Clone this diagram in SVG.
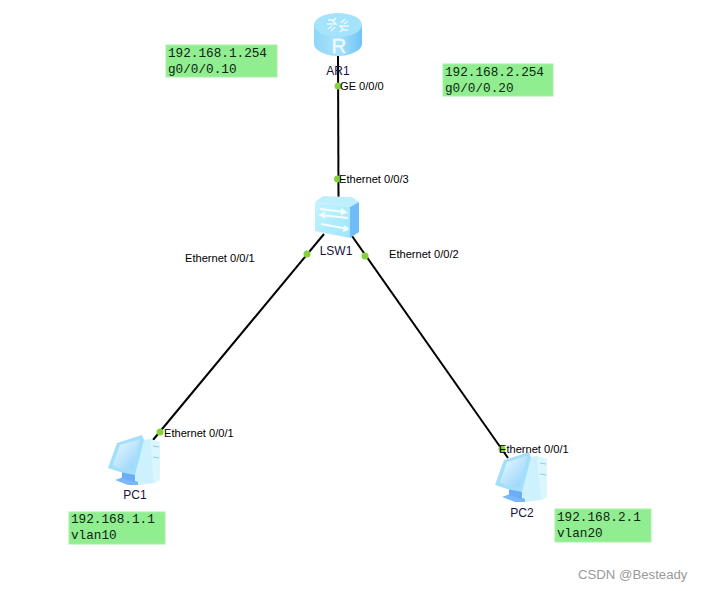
<svg xmlns="http://www.w3.org/2000/svg" width="702" height="591" viewBox="0 0 702 591">
<defs>
<style>
.lbl{font-family:"Liberation Sans",Arial,sans-serif;font-size:11.1px;fill:#000}
.name{font-family:"Liberation Sans",Arial,sans-serif;font-size:12px;fill:#1a1040}
.note{fill:#90ee90;stroke:#a6f0a6;stroke-width:1}
.nt{font-family:"Liberation Mono",monospace;font-size:12.7px;fill:#0c2410}
.link{stroke:#000;stroke-width:2;fill:none}
.dot{fill:#84d13c}
.ic{stroke:#eafaff;stroke-width:1.500;fill:none}
</style>
<linearGradient id="rb" x1="0" x2="1" y1="0" y2="0"><stop offset="0" stop-color="#8fd6f7"/><stop offset=".5" stop-color="#a9e3fb"/><stop offset="1" stop-color="#6fc3f5"/></linearGradient>
<linearGradient id="sf" x1="0" x2="1" y1="0" y2="1"><stop offset="0" stop-color="#c4f3ff"/><stop offset="1" stop-color="#9fe5fb"/></linearGradient>
<linearGradient id="ms" x1="0" x2="1" y1="0" y2="1"><stop offset="0" stop-color="#eefbff"/><stop offset="1" stop-color="#8fd0fa"/></linearGradient>
<g id="pc">
<polygon points="35,4 42,3 52,6 52,44 46,47 30,49 26,40" fill="#cdf1fd"/>
<polygon points="42,3 52,6 52,44 46,47" fill="#dcf6fe"/>
<line x1="45" y1="10" x2="51" y2="11" stroke="#8ccdf0" stroke-width="1"/>
<line x1="45" y1="21" x2="51" y2="22" stroke="#8ccdf0" stroke-width="1"/>
<polygon points="7,44 18,40 30,46 30,49 20,49" fill="#7ab8fb"/>
<polygon points="14,33 27,36 27,46 14,42" fill="#6aaef8"/>
<polygon points="0,32 9,7 34,-1 36,4 27,39 12,36" fill="#a3dffb"/>
<polygon points="5,29 12,9 32,3 25,33 12,33" fill="url(#ms)"/>
</g>
</defs>
<rect width="702" height="591" fill="#fff"/>
<g id="connectors">
<line class="link" x1="338" y1="55" x2="338.500" y2="199"/>
<line class="link" x1="324" y1="234" x2="153" y2="440"/>
<line class="link" x1="352" y1="236" x2="508" y2="458"/>
</g>
<g id="AR1">
<path d="M314 25V44C314 50 325 56 338 56S362 50 362 44V25Z" fill="url(#rb)"/>
<ellipse cx="338" cy="25" rx="24" ry="12" fill="#a5e2fb"/>
<path class="ic" d="M327 24h9l-3-3 3-3M349 26h-9l3 3-3 3M328 20h6M348 30h-6M331 31l4-4M345 19l-4 4M328 29l4-3M348 21l-4 3"/>
<text x="339" y="53" text-anchor="middle" font-family="Liberation Sans,Arial,sans-serif" font-size="20.500" fill="#eefaff" stroke="#eefaff" stroke-width=".4">R</text>
<text class="name" x="338" y="75" text-anchor="middle">AR1</text>
</g>
<g id="LSW1">
<polygon points="315,202 323,196 352,197 359,202 350,207" fill="#bdeffd"/>
<polygon points="350,207 359,202 359,232 350,238" fill="#6ebcf8"/>
<polygon points="315,202 350,207 350,238 315,231" fill="url(#sf)"/>
<path d="M320 209l25 3-4-3M345 212l-4 2M348 218l-27-3 4-3M321 215l4 3M321 224l27 5-4-3M348 229l-5 2" stroke="#f4fdff" stroke-width="2" fill="none"/>
<text class="name" x="336" y="255" text-anchor="middle">LSW1</text>
</g>
<g id="PC1">
<use href="#pc" x="108" y="436"/>
<text class="name" x="135" y="499" text-anchor="middle">PC1</text>
</g>
<g id="PC2">
<use href="#pc" x="495" y="453"/>
<text class="name" x="522" y="517" text-anchor="middle">PC2</text>
</g>
<g id="ports">
<circle class="dot" cx="338" cy="86" r="3.500"/>
<circle class="dot" cx="337.500" cy="179" r="3.500"/>
<circle class="dot" cx="307" cy="254" r="3.500"/>
<circle class="dot" cx="365" cy="256" r="3.500"/>
<circle class="dot" cx="160" cy="432" r="3.500"/>
<circle class="dot" cx="502" cy="449" r="3.500"/>
<text class="lbl" x="340" y="90">GE 0/0/0</text>
<text class="lbl" x="339" y="183">Ethernet 0/0/3</text>
<text class="lbl" x="185" y="262">Ethernet 0/0/1</text>
<text class="lbl" x="389" y="258">Ethernet 0/0/2</text>
<text class="lbl" x="164" y="437">Ethernet 0/0/1</text>
<text class="lbl" x="499" y="453">Ethernet 0/0/1</text>
</g>
<g id="note1"><rect class="note" x="166" y="45" width="111" height="32"/><text class="nt" x="168" y="57">192.168.1.254</text><text class="nt" x="168" y="73">g0/0/0.10</text></g>
<g id="note2"><rect class="note" x="443" y="64" width="110" height="32"/><text class="nt" x="445" y="76">192.168.2.254</text><text class="nt" x="445" y="92">g0/0/0.20</text></g>
<g id="note3"><rect class="note" x="69" y="512" width="96" height="32"/><text class="nt" x="71" y="523">192.168.1.1</text><text class="nt" x="71" y="539">vlan10</text></g>
<g id="note4"><rect class="note" x="555" y="509" width="96" height="33"/><text class="nt" x="557" y="521">192.168.2.1</text><text class="nt" x="557" y="537">vlan20</text></g>
<text x="578" y="579" font-family="Liberation Sans,Arial,sans-serif" font-size="13.200" fill="#9a9a9a">CSDN @Besteady</text>
</svg>
